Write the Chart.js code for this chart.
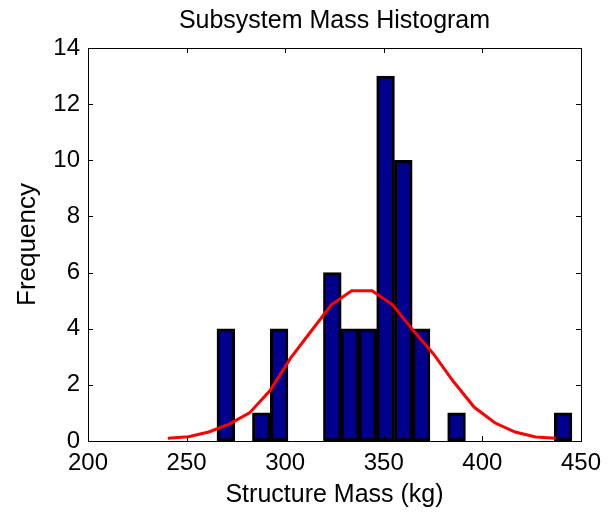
<!DOCTYPE html>
<html>
<head>
<meta charset="utf-8">
<script src="https://cdn.jsdelivr.net/npm/chart.js@4"></script>
<style>
  html, body { margin: 0; padding: 0; background: #fff; }
  #wrap { width: 609px; height: 513px; }
</style>
</head>
<body>
<div id="wrap"><canvas id="histChart" width="609" height="513"></canvas></div>
<script>
// histogram bins (centre of each bin, kg) and counts
const binCenters = [269.9, 278.9, 287.9, 296.9, 305.9, 314.9, 323.9, 332.9, 341.9, 350.9,
                    359.9, 368.9, 377.9, 386.9, 395.9, 404.9, 413.9, 422.9, 431.9, 440.9];
const counts = [4, 0, 1, 4, 0, 0, 6, 4, 4, 13, 10, 4, 0, 1, 0, 0, 0, 0, 0, 1];

// fitted curve
const fitX = [240.5, 250.9, 261.2, 271.6, 281.9, 292.3, 302.7, 313.0, 323.4, 333.7,
              344.1, 354.5, 364.8, 375.2, 385.5, 395.9, 406.3, 416.6, 427.0, 437.3];
const fitY = [0.1, 0.15, 0.32, 0.6, 1.0, 1.8, 2.95, 3.9, 4.85, 5.35,
              5.35, 4.85, 3.95, 3.1, 2.1, 1.2, 0.65, 0.32, 0.14, 0.1];

const xTicks = [200, 250, 300, 350, 400, 450];
const yTicks = [0, 2, 4, 6, 8, 10, 12, 14];

const FONT = 'Liberation Sans, Arial, sans-serif';
Chart.defaults.color = '#000';
Chart.defaults.font.family = FONT;

// box around the axes + inward tick marks on all 4 sides (matlab style)
const axesBox = {
    id: 'axesBox',
    afterDatasetsDraw(chart) {
        const { ctx, chartArea: a, scales } = chart;
        const len = 5;
        ctx.save();
        ctx.strokeStyle = '#000';
        ctx.lineWidth = 1;
        ctx.beginPath();
        scales.x.ticks.forEach((t, i) => {
            const px = Math.round(scales.x.getPixelForTick(i)) + 0.5;
            ctx.moveTo(px, a.bottom); ctx.lineTo(px, a.bottom - len);
            ctx.moveTo(px, a.top); ctx.lineTo(px, a.top + len);
        });
        scales.y.ticks.forEach((t, i) => {
            const py = Math.round(scales.y.getPixelForTick(i)) + 0.5;
            ctx.moveTo(a.left, py); ctx.lineTo(a.left + len, py);
            ctx.moveTo(a.right, py); ctx.lineTo(a.right - len, py);
        });
        ctx.stroke();
        ctx.strokeRect(Math.round(a.left) + 0.5, Math.round(a.top) + 0.5,
                       Math.round(a.right - a.left), Math.round(a.bottom - a.top));
        ctx.restore();
    }
};

const ctx = document.getElementById('histChart').getContext('2d');
const histChart = new Chart(ctx, {
    type: 'bar',
    data: {
        datasets: [{
            type: 'line',
            label: 'fit',
            data: fitX.map((x, i) => ({ x: x, y: fitY[i] })),
            borderColor: 'rgb(255, 0, 0)',
            borderWidth: 3,
            pointRadius: 0,
            tension: 0,
            fill: false,
            order: 0
        }, {
            label: 'Frequency',
            data: binCenters.map((x, i) => ({ x: x, y: counts[i] })),
            backgroundColor: 'rgb(0, 0, 143)',
            borderColor: '#000',
            borderWidth: 3,
            borderSkipped: false,
            barPercentage: 1,
            categoryPercentage: 1,
            order: 1
        }]
    },
    options: {
        responsive: false,
        animation: false,
        layout: { padding: { left: 12, right: 27, top: 0, bottom: 0 } },
        plugins: {
            legend: { display: false },
            tooltip: { enabled: false },
            title: {
                display: true,
                fullSize: false,
                text: 'Subsystem Mass Histogram',
                color: '#000',
                font: { size: 25, weight: 'normal', family: FONT },
                padding: { top: 6, bottom: 12 }
            }
        },
        scales: {
            x: {
                type: 'linear',
                offset: false,
                min: 200,
                max: 450,
                afterBuildTicks: (s) => { s.ticks = xTicks.map(v => ({ value: v })); },
                afterFit: (s) => { s.height = 72; },
                ticks: { font: { size: 24 }, padding: 8, maxRotation: 0, autoSkip: false },
                grid: { display: false, drawOnChartArea: false, drawTicks: false, offset: false },
                border: { display: true, color: '#000', width: 1 },
                title: {
                    display: true,
                    text: 'Structure Mass (kg)',
                    font: { size: 25 },
                    padding: { top: 0, bottom: 3 }
                }
            },
            y: {
                min: 0,
                max: 14,
                afterBuildTicks: (s) => { s.ticks = yTicks.map(v => ({ value: v })); },
                afterFit: (s) => { s.width = 76; },
                ticks: { font: { size: 24 }, padding: 8 },
                grid: { display: false, drawOnChartArea: false, drawTicks: false },
                border: { display: true, color: '#000', width: 1 },
                title: {
                    display: true,
                    text: 'Frequency',
                    font: { size: 26 },
                    padding: { top: 0, bottom: 0 }
                }
            }
        }
    },
    plugins: [axesBox]
});
</script>
</body>
</html>
